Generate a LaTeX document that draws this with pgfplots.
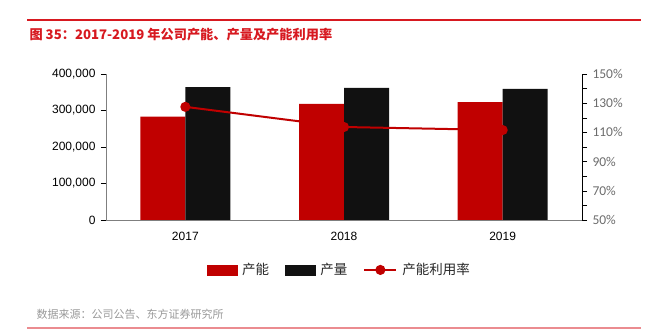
\documentclass[border=0pt]{standalone}
\usepackage{pgfplots}
\pgfplotsset{compat=1.18}
\usepackage{fontspec}
\setmainfont{Liberation Sans}
\newfontfamily\cjk{Noto Sans CJK SC}
\newfontfamily\carlito{Carlito}
\definecolor{myred}{HTML}{C00000}
\definecolor{myblack}{HTML}{111111}
\definecolor{axgray}{HTML}{7F7F7F}
\definecolor{titlered}{HTML}{D71920}
\pgfplotsset{
  redbarleg/.style={legend image code/.code={\fill[myred] (0bp,-5bp) rectangle (30bp,5bp);}},
  blackbarleg/.style={legend image code/.code={\fill[myblack] (0bp,-5bp) rectangle (30bp,5bp);}},
  lineleg/.style={legend image code/.code={%
    \draw[myred, line width=2bp] (0bp,0bp) -- (32bp,0bp);
    \fill[myred] (16bp,0bp) circle (4bp);}},
}
\begin{document}
\begin{tikzpicture}
\useasboundingbox (0,0) rectangle (659bp,333bp);
\draw[titlered, line width=1.2bp] (27bp,313bp) -- (641bp,313bp);
\node[anchor=west, text=titlered, font=\cjk\bfseries\fontsize{13.2bp}{15bp}\selectfont] at (26bp,298bp) {图 35：2017-2019 年公司产能、产量及产能利用率};
\node[anchor=west, text=gray!80, font=\cjk\fontsize{11bp}{13bp}\selectfont] at (33bp,19bp) {数据来源：公司公告、东方证券研究所};
\draw[titlered!50, line width=1.5bp] (27bp,5bp) -- (641bp,5bp);

\begin{axis}[
  at={(106bp,113bp)}, anchor=south west,
  scale only axis, width=476bp, height=146bp,
  xmin=-0.5, xmax=2.5, ymin=0, ymax=400000,
  ybar=0pt, bar width=45bp,
  xtick={0,1,2}, xticklabels={2017,2018,2019},
  major x tick style={draw=none},
  extra x ticks={0.5,1.5}, extra x tick labels={},
  extra x tick style={major tick length=5bp, tick style={draw=axgray, thin}},
  ytick={0,100000,200000,300000,400000},
  scaled y ticks=false,
  /pgf/number format/1000 sep={,}, /pgf/number format/fixed,
  /pgf/number format/assume math mode=true,
  tick align=outside, major tick length=5bp,
  axis x line*=bottom, axis y line*=left,
  axis line style={axgray, thin},
  ytick style={black, thin},
  tick label style={font=\fontsize{12bp}{14bp}\selectfont, text=black},
  xticklabel style={yshift=-4bp},
  yticklabel style={xshift=-2bp},
]
\addplot[fill=myred, draw=none] coordinates {(0,283000) (1,318000) (2,323000)};
\addplot[fill=myblack, draw=none] coordinates {(0,364000) (1,362000) (2,359000)};
\end{axis}

\begin{axis}[
  at={(106bp,113bp)}, anchor=south west,
  scale only axis, width=476bp, height=146bp,
  xmin=-0.5, xmax=2.5, ymin=50, ymax=150,
  axis x line=none, axis y line*=right,
  axis line style={black, thin},
  ytick={50,70,90,110,130,150},
  minor ytick={60,80,100,120,140},
  yticklabel={\pgfmathprintnumber{\tick}\%},
  /pgf/number format/assume math mode=true,
  tick align=outside, major tick length=5bp, minor tick length=5bp,
  ytick style={black, thin},
  tick label style={font=\carlito\fontsize{13.5bp}{15bp}\selectfont, text=gray!85!black},
  yticklabel style={xshift=2bp},
  legend style={at={(0.49,-0.342)}, anchor=center, draw=none, fill=none,
    legend columns=3, font=\cjk\fontsize{13.5bp}{15bp}\selectfont, text=black!85,
    /tikz/every odd column/.append style={column sep=3bp},
    /tikz/every even column/.append style={column sep=14bp},
    inner sep=0pt},
]
\addlegendimage{redbarleg}
\addlegendentry{产能}
\addlegendimage{blackbarleg}
\addlegendentry{产量}
\addplot[myred, line width=2bp, mark=*, mark size=4bp, mark options={fill=myred, draw=myred}, lineleg]
  coordinates {(0,127.5) (1,113.7) (2,111.6)};
\addlegendentry{产能利用率}
\end{axis}
\end{tikzpicture}
\end{document}
